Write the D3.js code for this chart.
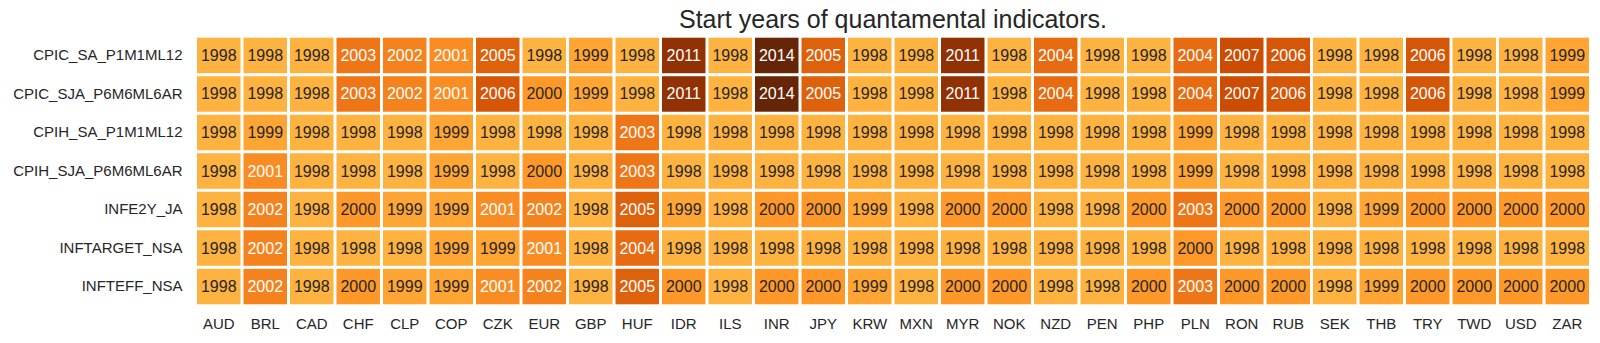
<!DOCTYPE html>
<html>
<head>
<meta charset="utf-8">
<script src="https://cdn.jsdelivr.net/npm/d3@7"></script>
<style>
  html, body { margin: 0; padding: 0; background: #fff; }
  svg { display: block; }
  text { font-family: "Liberation Sans", Arial, sans-serif; }
</style>
</head>
<body>
<svg id="chart" width="1600" height="343"></svg>
<script>
const title = "Start years of quantamental indicators.";
const currencies = ["AUD","BRL","CAD","CHF","CLP","COP","CZK","EUR","GBP","HUF","IDR","ILS","INR","JPY","KRW","MXN","MYR","NOK","NZD","PEN","PHP","PLN","RON","RUB","SEK","THB","TRY","TWD","USD","ZAR"];
const indicators = ["CPIC_SA_P1M1ML12","CPIC_SJA_P6M6ML6AR","CPIH_SA_P1M1ML12","CPIH_SJA_P6M6ML6AR","INFE2Y_JA","INFTARGET_NSA","INFTEFF_NSA"];
const cpicSaP1M1ML12   = [1998,1998,1998,2003,2002,2001,2005,1998,1999,1998,2011,1998,2014,2005,1998,1998,2011,1998,2004,1998,1998,2004,2007,2006,1998,1998,2006,1998,1998,1999];
const cpicSjaP6M6ML6AR = [1998,1998,1998,2003,2002,2001,2006,2000,1999,1998,2011,1998,2014,2005,1998,1998,2011,1998,2004,1998,1998,2004,2007,2006,1998,1998,2006,1998,1998,1999];
const cpihSaP1M1ML12   = [1998,1999,1998,1998,1998,1999,1998,1998,1998,2003,1998,1998,1998,1998,1998,1998,1998,1998,1998,1998,1998,1999,1998,1998,1998,1998,1998,1998,1998,1998];
const cpihSjaP6M6ML6AR = [1998,2001,1998,1998,1998,1999,1998,2000,1998,2003,1998,1998,1998,1998,1998,1998,1998,1998,1998,1998,1998,1999,1998,1998,1998,1998,1998,1998,1998,1998];
const infe2yJa         = [1998,2002,1998,2000,1999,1999,2001,2002,1998,2005,1999,1998,2000,2000,1999,1998,2000,2000,1998,1998,2000,2003,2000,2000,1998,1999,2000,2000,2000,2000];
const inftargetNsa     = [1998,2002,1998,1998,1998,1999,1999,2001,1998,2004,1998,1998,1998,1998,1998,1998,1998,1998,1998,1998,1998,2000,1998,1998,1998,1998,1998,1998,1998,1998];
const inftEffNsa       = [1998,2002,1998,2000,1999,1999,2001,2002,1998,2005,2000,1998,2000,2000,1999,1998,2000,2000,1998,1998,2000,2003,2000,2000,1998,1999,2000,2000,2000,2000];
const seriesValues = [cpicSaP1M1ML12, cpicSjaP6M6ML6AR, cpihSaP1M1ML12, cpihSjaP6M6ML6AR, infe2yJa, inftargetNsa, inftEffNsa];
const colorDomain = [1986, 2014];

(function () {
const cells = [];
indicators.forEach((ind, i) => {
  currencies.forEach((cur, j) => {
    cells.push({ ind, cur, v: seriesValues[i][j] });
  });
});

const svg = d3.select("#chart");
const mLeft = 195.5, mRight = 1590.5, mTop = 36.2, mBottom = 305.8;
const gap = 1.5;

const x = d3.scaleBand().domain(currencies).range([mLeft, mRight]).padding(0);
const y = d3.scaleBand().domain(indicators).range([mTop, mBottom]).padding(0);

const ylorbr = ["#ffffe5","#fff7bc","#fee391","#fec44f","#fe9929","#ec7014","#cc4c02","#993404","#662506"];
const color = d3.scaleLinear()
  .domain(d3.range(ylorbr.length).map(k => colorDomain[0] + (colorDomain[1] - colorDomain[0]) * k / (ylorbr.length - 1)))
  .range(ylorbr)
  .interpolate(d3.interpolateRgb)
  .clamp(true);

function lum(c) {
  const rgb = d3.rgb(c);
  const f = v => { v /= 255; return v <= 0.03928 ? v / 12.92 : Math.pow((v + 0.055) / 1.055, 2.4); };
  return 0.2126 * f(rgb.r) + 0.7152 * f(rgb.g) + 0.0722 * f(rgb.b);
}

svg.append("g").selectAll("rect").data(cells).join("rect")
  .attr("x", d => x(d.cur) + gap)
  .attr("y", d => y(d.ind) + gap)
  .attr("width", x.bandwidth() - 2 * gap)
  .attr("height", y.bandwidth() - 2 * gap)
  .attr("fill", d => color(d.v));

svg.append("g").selectAll("text").data(cells).join("text")
  .attr("x", d => x(d.cur) + x.bandwidth() / 2)
  .attr("y", d => y(d.ind) + y.bandwidth() / 2)
  .attr("text-anchor", "middle")
  .attr("dominant-baseline", "central")
  .attr("font-size", 16)
  .attr("fill", d => lum(color(d.v)) > 0.408 ? "#262626" : "#ffffff")
  .text(d => d.v);

const yAxis = d3.axisLeft(y).tickSize(0).tickPadding(13);
const gy = svg.append("g").attr("transform", `translate(${mLeft},0)`).call(yAxis);
gy.select(".domain").remove();
gy.selectAll("text").attr("font-size", 15).attr("fill", "#262626").attr("font-family", "Liberation Sans, Arial, sans-serif");

const xAxis = d3.axisBottom(x).tickSize(0).tickPadding(13);
const gx = svg.append("g").attr("transform", `translate(0,${mBottom})`).call(xAxis);
gx.select(".domain").remove();
gx.selectAll("text").attr("font-size", 15).attr("fill", "#262626").attr("font-family", "Liberation Sans, Arial, sans-serif");

svg.append("text")
  .attr("x", (mLeft + mRight) / 2)
  .attr("y", 27.5)
  .attr("text-anchor", "middle")
  .attr("font-size", 25)
  .attr("fill", "#262626")
  .text(title);
})();
</script>
</body>
</html>
